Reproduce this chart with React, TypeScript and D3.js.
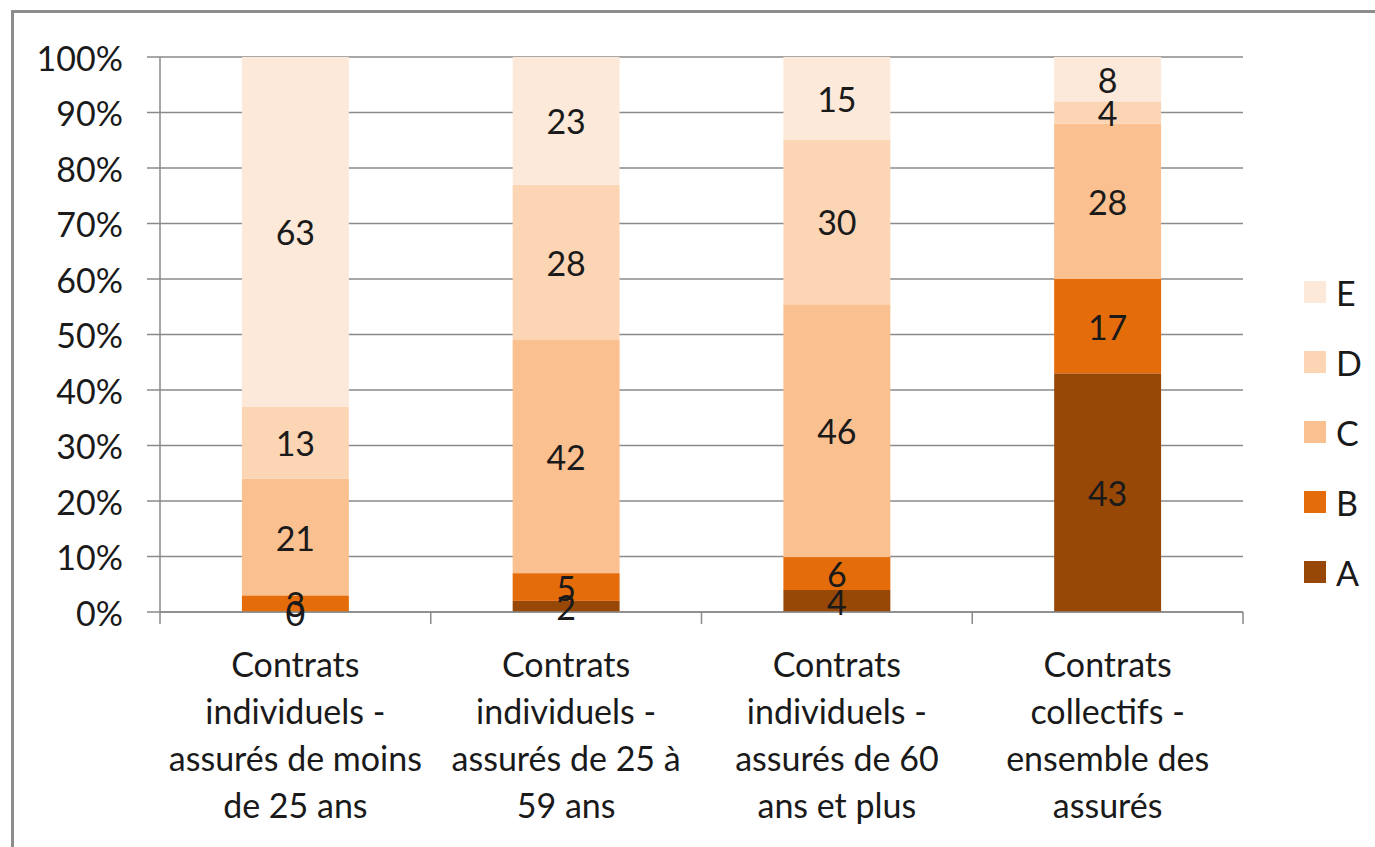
import React from "react";
import * as d3 from "d3";

// Categories (each label split into its displayed lines)
const categories = ["c1", "c2", "c3", "c4"];
const categoryLines: string[][] = [
  ["Contrats", "individuels -", "assurés de moins", "de 25 ans"],
  ["Contrats", "individuels -", "assurés de 25 à", "59 ans"],
  ["Contrats", "individuels -", "assurés de 60", "ans et plus"],
  ["Contrats", "collectifs -", "ensemble des", "assurés"],
];

// Series values per category
const seriesKeys = ["A", "B", "C", "D", "E"];
const valuesA = [0, 2, 4, 43];
const valuesB = [3, 5, 6, 17];
const valuesC = [21, 42, 46, 28];
const valuesD = [13, 28, 30, 4];
const valuesE = [63, 23, 15, 8];
const seriesColors = ["#974806", "#E46C0A", "#FAC090", "#FCD5B5", "#FDE9D9"];

const yTicks = [0, 0.1, 0.2, 0.3, 0.4, 0.5, 0.6, 0.7, 0.8, 0.9, 1];

const FONT = "Lato, 'Open Sans', sans-serif";
const FS = 34;

export default function App() {
  const W = 1375;
  const H = 847;
  const left = 160;
  const right = 1243;
  const top = 57;
  const bottom = 612;

  const rows = categories.map((c, i) => ({
    cat: c,
    A: valuesA[i],
    B: valuesB[i],
    C: valuesC[i],
    D: valuesD[i],
    E: valuesE[i],
  }));

  const stacked = d3
    .stack<any>()
    .keys(seriesKeys)
    .offset(d3.stackOffsetExpand)(rows);

  const x = d3.scaleBand<string>().domain(categories).range([left, right]).padding(0);
  const barW = x.bandwidth() * 0.395;
  const y = d3.scaleLinear().domain([0, 1]).range([bottom, top]);
  const color = d3.scaleOrdinal<string, string>().domain(seriesKeys).range(seriesColors);
  const pct = d3.format(".0%");

  const gridColor = "#8a8a8a";

  return (
    <svg
      width={W}
      height={H}
      style={{ position: "absolute", left: 0, top: 0, background: "#fff" }}
      fontFamily={FONT}
    >
      <rect x={0} y={0} width={W} height={H} fill="#fff" />
      {/* outer frame */}
      <rect x={12.5} y={11.5} width={W + 20} height={H + 20} fill="none" stroke="#8c8c8c" strokeWidth={3} />

      {/* horizontal gridlines with outward tick marks */}
      {yTicks.map((t) => (
        <line key={t} x1={147} x2={right} y1={y(t)} y2={y(t)} stroke={gridColor} strokeWidth={1.5} />
      ))}
      {/* y tick labels */}
      {yTicks.map((t) => (
        <text
          key={"l" + t}
          x={123}
          y={y(t)}
          textAnchor="end"
          dominantBaseline="central"
          fontSize={FS}
          fill="#1a1a1a"
        >
          {pct(t)}
        </text>
      ))}

      {/* bars */}
      {stacked.map((layer) =>
        layer.map((d, i) => {
          const cx = (x(categories[i]) as number) + x.bandwidth() / 2;
          return (
            <rect
              key={layer.key + i}
              x={cx - barW / 2}
              y={y(d[1])}
              width={barW}
              height={Math.max(0, y(d[0]) - y(d[1]))}
              fill={color(layer.key)}
            />
          );
        })
      )}

      {/* y axis line */}
      <line x1={left} x2={left} y1={top} y2={bottom} stroke={gridColor} strokeWidth={1.5} />
      {/* x axis line and category tick marks */}
      <line x1={left} x2={right} y1={bottom} y2={bottom} stroke={gridColor} strokeWidth={1.5} />
      {categories.concat(["end"]).map((c, i) => {
        const xx = i < categories.length ? (x(c) as number) : right;
        return <line key={"xt" + i} x1={xx} x2={xx} y1={bottom} y2={bottom + 12} stroke={gridColor} strokeWidth={1.5} />;
      })}

      {/* data labels */}
      {stacked.map((layer) =>
        layer.map((d, i) => {
          const cx = (x(categories[i]) as number) + x.bandwidth() / 2;
          const v = (rows[i] as any)[layer.key];
          return (
            <text
              key={"v" + layer.key + i}
              x={cx}
              y={(y(d[0]) + y(d[1])) / 2}
              textAnchor="middle"
              dominantBaseline="central"
              fontSize={FS}
              fill="#1a1a1a"
            >
              {v}
            </text>
          );
        })
      )}

      {/* category labels */}
      {categories.map((c, i) => {
        const cx = (x(c) as number) + x.bandwidth() / 2;
        return (
          <g key={"cl" + c}>
            {categoryLines[i].map((ln, j) => (
              <text
                key={j}
                x={cx}
                y={663 + j * 47}
                textAnchor="middle"
                dominantBaseline="central"
                fontSize={FS}
                fill="#1a1a1a"
              >
                {ln}
              </text>
            ))}
          </g>
        );
      })}

      {/* legend, top entry is E */}
      {seriesKeys
        .slice()
        .reverse()
        .map((k, j) => (
          <g key={"lg" + k} transform={`translate(1304, ${292 + j * 70})`}>
            <rect x={0} y={-11} width={22} height={22} fill={color(k)} />
            <text x={32} y={0} dominantBaseline="central" fontSize={FS} fill="#1a1a1a">
              {k}
            </text>
          </g>
        ))}
    </svg>
  );
}
